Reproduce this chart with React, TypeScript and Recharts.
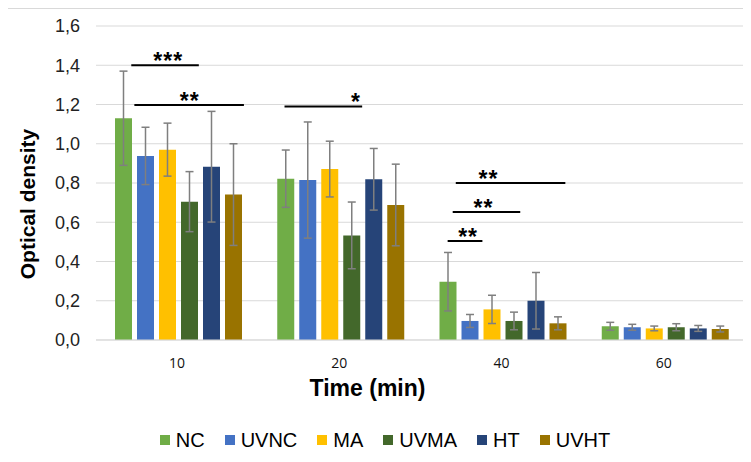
import { Bar, BarChart, CartesianGrid, ErrorBar, LabelList, Legend, XAxis, YAxis } from "recharts";

const times = ["10", "20", "40", "60"];

const nc = [1.13, 0.822, 0.297, 0.07];
const ncErr = [0.24, 0.146, 0.149, 0.02];
const uvnc = [0.938, 0.815, 0.097, 0.065];
const uvncErr = [0.146, 0.296, 0.033, 0.015];
const ma = [0.97, 0.871, 0.156, 0.059];
const maErr = [0.135, 0.142, 0.072, 0.012];
const uvma = [0.705, 0.533, 0.097, 0.065];
const uvmaErr = [0.153, 0.17, 0.045, 0.018];
const ht = [0.883, 0.819, 0.2, 0.059];
const htErr = [0.282, 0.157, 0.144, 0.015];
const uvht = [0.741, 0.688, 0.085, 0.056];
const uvhtErr = [0.259, 0.208, 0.033, 0.015];

const yTicks = [0, 0.2, 0.4, 0.6, 0.8, 1.0, 1.2, 1.4, 1.6];

// which bars are compared; from/to/at are counted in bar slots from the NC bar
const significance = [
  { time: "10", from: 0.74, to: 3.81, level: 1.4, mark: "***", at: 2.42 },
  { time: "10", from: 0.88, to: 5.86, level: 1.197, mark: "**", at: 3.4 },
  { time: "20", from: 0.33, to: 3.86, level: 1.19, mark: "*", at: 3.58 },
  { time: "40", from: 0.74, to: 5.72, level: 0.8, mark: "**", at: 2.23 },
  { time: "40", from: 0.6, to: 3.67, level: 0.652, mark: "**", at: 2.0 },
  { time: "40", from: 0.37, to: 1.95, level: 0.504, mark: "**", at: 1.3 },
];

const series = [
  { key: "NC", values: nc, errors: ncErr, color: "#70AD47" },
  { key: "UVNC", values: uvnc, errors: uvncErr, color: "#4472C4" },
  { key: "MA", values: ma, errors: maErr, color: "#FFC000" },
  { key: "UVMA", values: uvma, errors: uvmaErr, color: "#43682B" },
  { key: "HT", values: ht, errors: htErr, color: "#264478" },
  { key: "UVHT", values: uvht, errors: uvhtErr, color: "#997300" },
];

const rows = times.map((time, i) => {
  const row: Record<string, string | number> = { time };
  series.forEach((s) => {
    row[s.key] = s.values[i];
    row[s.key + "Err"] = s.errors[i];
  });
  return row;
});

const BAR_GAP = 5;
const FONT = "'Liberation Sans', Arial, sans-serif";

function SignificanceMarks(props: any) {
  const vb = props.viewBox ?? props;
  const { x, y, width, height } = vb;
  let index = props.index;
  if (index === undefined) index = nc.indexOf(Number(props.value));
  const items = significance.filter((s) => s.time === times[index]);
  if (!items.length || !height) return null;
  const value = nc[index];
  const base = y + height;
  const perUnit = height / value;
  const pitch = width + BAR_GAP;
  return (
    <g>
      {items.map((s, i) => {
        const ly = base - s.level * perUnit;
        return (
          <g key={i}>
            <line x1={x + s.from * pitch} x2={x + s.to * pitch} y1={ly} y2={ly} stroke="#000" strokeWidth={2} />
            <text
              x={x + s.at * pitch}
              y={ly + 4}
              textAnchor="middle"
              fontSize={23}
              fontWeight="bold"
              letterSpacing={1}
              fontFamily={FONT}
              fill="#000"
            >
              {s.mark}
            </text>
          </g>
        );
      })}
    </g>
  );
}

function LegendRow() {
  return (
    <div
      style={{
        display: "flex",
        justifyContent: "center",
        alignItems: "center",
        height: 24,
        paddingLeft: 38,
        fontFamily: FONT,
        fontSize: 20,
        color: "#000",
      }}
    >
      {series.map((s) => (
        <div key={s.key} style={{ display: "flex", alignItems: "center", marginRight: 20 }}>
          <span style={{ width: 10, height: 10, background: s.color, marginRight: 6 }} />
          <span>{s.key}</span>
        </div>
      ))}
    </div>
  );
}

export default function App() {
  return (
    <div
      style={{
        marginLeft: -2,
        width: 744,
        height: 453,
        border: "1px solid #d9d9d9",
        borderRight: "none",
        borderBottom: "none",
        fontFamily: FONT,
        background: "#fff",
      }}
    >
      <BarChart
        width={744}
        height={452}
        data={rows}
        margin={{ top: 17, right: 6, left: 0, bottom: 9 }}
        barGap={BAR_GAP}
        barCategoryGap={19}
      >
        <CartesianGrid vertical={false} stroke="#d9d9d9" />
        <XAxis
          dataKey="time"
          height={88}
          tickLine={false}
          axisLine={{ stroke: "#d9d9d9" }}
          tickMargin={12}
          tick={{ fontSize: 14, fill: "#111", fontFamily: "'Open Sans', sans-serif" }}
          label={{
            value: "Time (min)",
            content: (p: any) => (
              <text
                x={p.viewBox.x + p.viewBox.width / 2 - 53}
                y={p.viewBox.y + 48}
                textAnchor="middle"
                dominantBaseline="central"
                fontSize={23}
                fontWeight="bold"
                fontFamily={FONT}
                fill="#000"
              >
                Time (min)
              </text>
            ),
          }}
        />
        <YAxis
          width={89}
          domain={[0, 1.6]}
          ticks={yTicks}
          tickFormatter={(v: number) => v.toFixed(1).replace(".", ",")}
          axisLine={false}
          tickLine={false}
          tickMargin={10}
          tick={{ fontSize: 18, fill: "#222", fontFamily: FONT }}
          label={{
            value: "Optical density",
            content: (p: any) => {
              const cx = p.viewBox.x + 20;
              const cy = p.viewBox.y + p.viewBox.height / 2 + 21;
              return (
                <text
                  x={cx}
                  y={cy}
                  transform={`rotate(-90, ${cx}, ${cy})`}
                  textAnchor="middle"
                  dominantBaseline="central"
                  fontSize={21}
                  fontWeight="bold"
                  fontFamily={FONT}
                  fill="#000"
                >
                  Optical density
                </text>
              );
            },
          }}
        />
        <Legend verticalAlign="bottom" content={() => <LegendRow />} />
        {series.map((s, i) => (
          <Bar key={s.key} dataKey={s.key} fill={s.color} isAnimationActive={false}>
            <ErrorBar dataKey={s.key + "Err"} width={4} stroke="#7f7f7f" strokeWidth={1.5} direction="y" />
            {i === 0 ? <LabelList dataKey={s.key} content={SignificanceMarks} /> : null}
          </Bar>
        ))}
      </BarChart>
    </div>
  );
}
